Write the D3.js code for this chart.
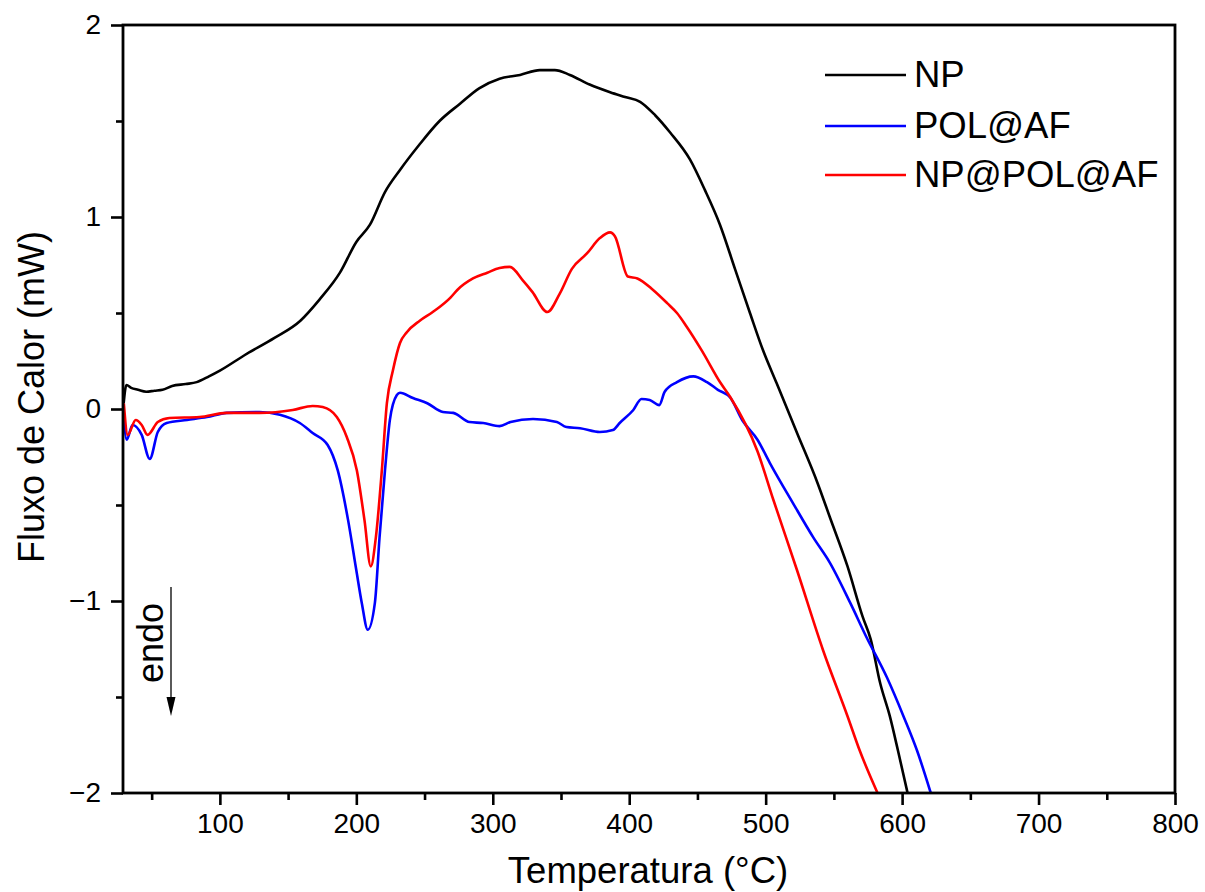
<!DOCTYPE html>
<html>
<head>
<meta charset="utf-8">
<script src="https://cdn.jsdelivr.net/npm/d3@7"></script>
<style>
  html, body { margin: 0; padding: 0; background: #fff; }
  svg { display: block; }
  text { font-family: "Liberation Sans", Arial, sans-serif; fill: #000; }
</style>
</head>
<body>
<svg id="chart" width="1205" height="892"></svg>
<script>
// ---------- data ----------
const seriesNames = ["NP", "POL@AF", "NP@POL@AF"];
const seriesColors = ["#000000", "#0000ff", "#ff0000"];

const npT = [29.5, 31.5, 35, 40, 46, 52, 58, 65, 75, 83, 92, 100, 118, 140, 159, 173, 188, 200, 210, 221, 232, 246, 261, 276, 290, 305, 320, 334.5, 345.5, 356.5, 371, 386, 397, 408, 419, 430, 444.5, 455.5, 466.5, 477.5, 488.5, 498, 508, 523, 538, 547, 560, 571, 577, 584, 591, 597, 604];
const npV = [0.03, 0.125, 0.11, 0.1, 0.09, 0.095, 0.1, 0.12, 0.13, 0.14, 0.17, 0.2, 0.28, 0.37, 0.46, 0.57, 0.71, 0.87, 0.96, 1.13, 1.245, 1.375, 1.5, 1.59, 1.67, 1.72, 1.74, 1.765, 1.765, 1.74, 1.69, 1.65, 1.625, 1.6, 1.53, 1.44, 1.30, 1.14, 0.96, 0.73, 0.5, 0.307, 0.135, -0.125, -0.385, -0.5625, -0.82, -1.08, -1.20, -1.43, -1.60, -1.78, -2.0];

const polT = [29, 31.7, 36, 42.7, 48.6, 54.5, 61, 76, 90.5, 105, 129, 144, 158.6, 168, 179, 186.4, 194, 200, 204, 208.4, 213.6, 217, 221, 224.6, 229.7, 232, 241.5, 252, 263.5, 271, 283, 293, 305, 313, 329.5, 347, 354, 364, 378.5, 388, 393, 403, 409, 415, 422, 426, 435, 447, 457, 465, 474, 483, 494, 503, 520, 535, 547, 562, 574, 589, 601, 611, 621];
const polV = [0.03, -0.16, -0.083, -0.135, -0.26, -0.12, -0.073, -0.057, -0.042, -0.02, -0.016, -0.03, -0.073, -0.125, -0.1875, -0.32, -0.58, -0.84, -1.01, -1.15, -1.01, -0.67, -0.32, -0.057, 0.073, 0.085, 0.057, 0.03, -0.016, -0.02, -0.068, -0.073, -0.089, -0.068, -0.052, -0.068, -0.094, -0.1, -0.12, -0.11, -0.073, -0.005, 0.052, 0.047, 0.02, 0.09, 0.14, 0.17, 0.14, 0.10, 0.06, -0.06, -0.16, -0.28, -0.49, -0.67, -0.80, -1.01, -1.19, -1.40, -1.60, -1.78, -2.0];

const nppT = [29.6, 32.5, 38.3, 42.7, 47, 54.5, 63, 85, 105, 129, 153.4, 168, 175.4, 185.7, 193, 200.4, 206, 210.6, 214.3, 218.7, 222.4, 226.8, 232, 237, 246.5, 256, 269, 274, 285.5, 296, 305, 312.5, 322, 329, 340, 349, 358, 369, 378.5, 386, 389.5, 399, 406, 417.5, 428, 435, 442, 453, 467, 474, 494, 505.5, 523, 542, 560, 569, 582];
const nppV = [0.03, -0.135, -0.057, -0.083, -0.135, -0.068, -0.047, -0.042, -0.02, -0.02, -0.005, 0.016, 0.01, -0.042, -0.146, -0.32, -0.58, -0.82, -0.67, -0.32, 0.03, 0.2, 0.344, 0.40, 0.46, 0.505, 0.58, 0.62, 0.68, 0.71, 0.734, 0.74, 0.67, 0.61, 0.505, 0.60, 0.73, 0.81, 0.89, 0.92, 0.90, 0.69, 0.68, 0.62, 0.55, 0.50, 0.43, 0.307, 0.135, 0.0625, -0.22, -0.47, -0.84, -1.255, -1.60, -1.78, -2.0];

const xTickValues = [100, 200, 300, 400, 500, 600, 700, 800];
const xMinorTicks = [50, 150, 250, 350, 450, 550, 650, 750];
const yTickValues = [-2, -1, 0, 1, 2];
const yMinorTicks = [-1.5, -0.5, 0.5, 1.5];
const xTitle = "Temperatura (°C)";
const yTitle = "Fluxo de Calor (mW)";
const annotation = "endo";

// ---------- layout ----------
const svg = d3.select("#chart");
const L = 123, R = 1175, T = 25, B = 793;
const x = d3.scaleLinear().domain([29, 800]).range([L, R]);
const y = d3.scaleLinear().domain([-2, 2]).range([B, T]);

svg.append("defs").append("clipPath").attr("id", "clip")
  .append("rect").attr("x", L).attr("y", T).attr("width", R - L).attr("height", B - T);

const series = [
  { T: npT, V: npV },
  { T: polT, V: polV },
  { T: nppT, V: nppV }
];

const line = d3.line()
  .x(d => x(d[0])).y(d => y(d[1]))
  .curve(d3.curveMonotoneX);

const g = svg.append("g").attr("clip-path", "url(#clip)");
[0, 1, 2].forEach(i => {
  const s = series[i];
  const pts = s.T.map((t, k) => [t, s.V[k]]);
  g.append("path")
    .attr("d", line(pts))
    .attr("fill", "none")
    .attr("stroke", seriesColors[i])
    .attr("stroke-width", 2.6)
    .attr("stroke-linejoin", "round");
});

// ---------- axes ----------
const xAxis = d3.axisBottom(x).tickValues(xTickValues).tickSize(12).tickPadding(8).tickFormat(d3.format("d"));
const xMinor = d3.axisBottom(x).tickValues(xMinorTicks).tickSize(7).tickFormat("");
const yAxis = d3.axisLeft(y).tickValues(yTickValues).tickSize(12).tickPadding(10).tickFormat(d3.format("d"));
const yMinor = d3.axisLeft(y).tickValues(yMinorTicks).tickSize(7).tickFormat("");

function styleAxis(sel) {
  sel.select(".domain").remove();
  sel.selectAll(".tick line").attr("stroke", "#000").attr("stroke-width", 2.6);
  sel.selectAll(".tick text")
    .style("font-family", '"Liberation Sans", Arial, sans-serif')
    .style("font-size", "28px").attr("fill", "#000");
}

svg.append("g").attr("transform", `translate(0,${B})`).call(xAxis).call(styleAxis);
svg.append("g").attr("transform", `translate(0,${B})`).call(xMinor).call(styleAxis);
svg.append("g").attr("transform", `translate(${L},0)`).call(yAxis).call(styleAxis);
svg.append("g").attr("transform", `translate(${L},0)`).call(yMinor).call(styleAxis);

// frame
svg.append("rect")
  .attr("x", L).attr("y", T).attr("width", R - L).attr("height", B - T)
  .attr("fill", "none").attr("stroke", "#000").attr("stroke-width", 2.8);

// titles
svg.append("text")
  .attr("x", 648).attr("y", 883)
  .attr("text-anchor", "middle")
  .style("font-size", "36.5px")
  .text(xTitle);

svg.append("text")
  .attr("transform", `translate(44,${397}) rotate(-90)`)
  .attr("text-anchor", "middle")
  .style("font-size", "36px")
  .text(yTitle);

// endo annotation
svg.append("line")
  .attr("x1", 171).attr("y1", 587).attr("x2", 171).attr("y2", 700)
  .attr("stroke", "#000").attr("stroke-width", 1.3);
svg.append("path")
  .attr("d", "M166.5,697 L175.5,697 L171,716 Z")
  .attr("fill", "#000");

svg.append("text")
  .attr("transform", `translate(163,643) rotate(-90)`)
  .attr("text-anchor", "middle")
  .style("font-size", "36px")
  .text(annotation);

// legend
const legY = [75, 126, 175];
seriesNames.forEach((name, i) => {
  svg.append("line")
    .attr("x1", 825).attr("x2", 906)
    .attr("y1", legY[i]).attr("y2", legY[i])
    .attr("stroke", seriesColors[i]).attr("stroke-width", 2.6);
  svg.append("text")
    .attr("x", 914).attr("y", legY[i] + 12)
    .style("font-size", "36.5px")
    .text(name);
});
</script>
</body>
</html>
